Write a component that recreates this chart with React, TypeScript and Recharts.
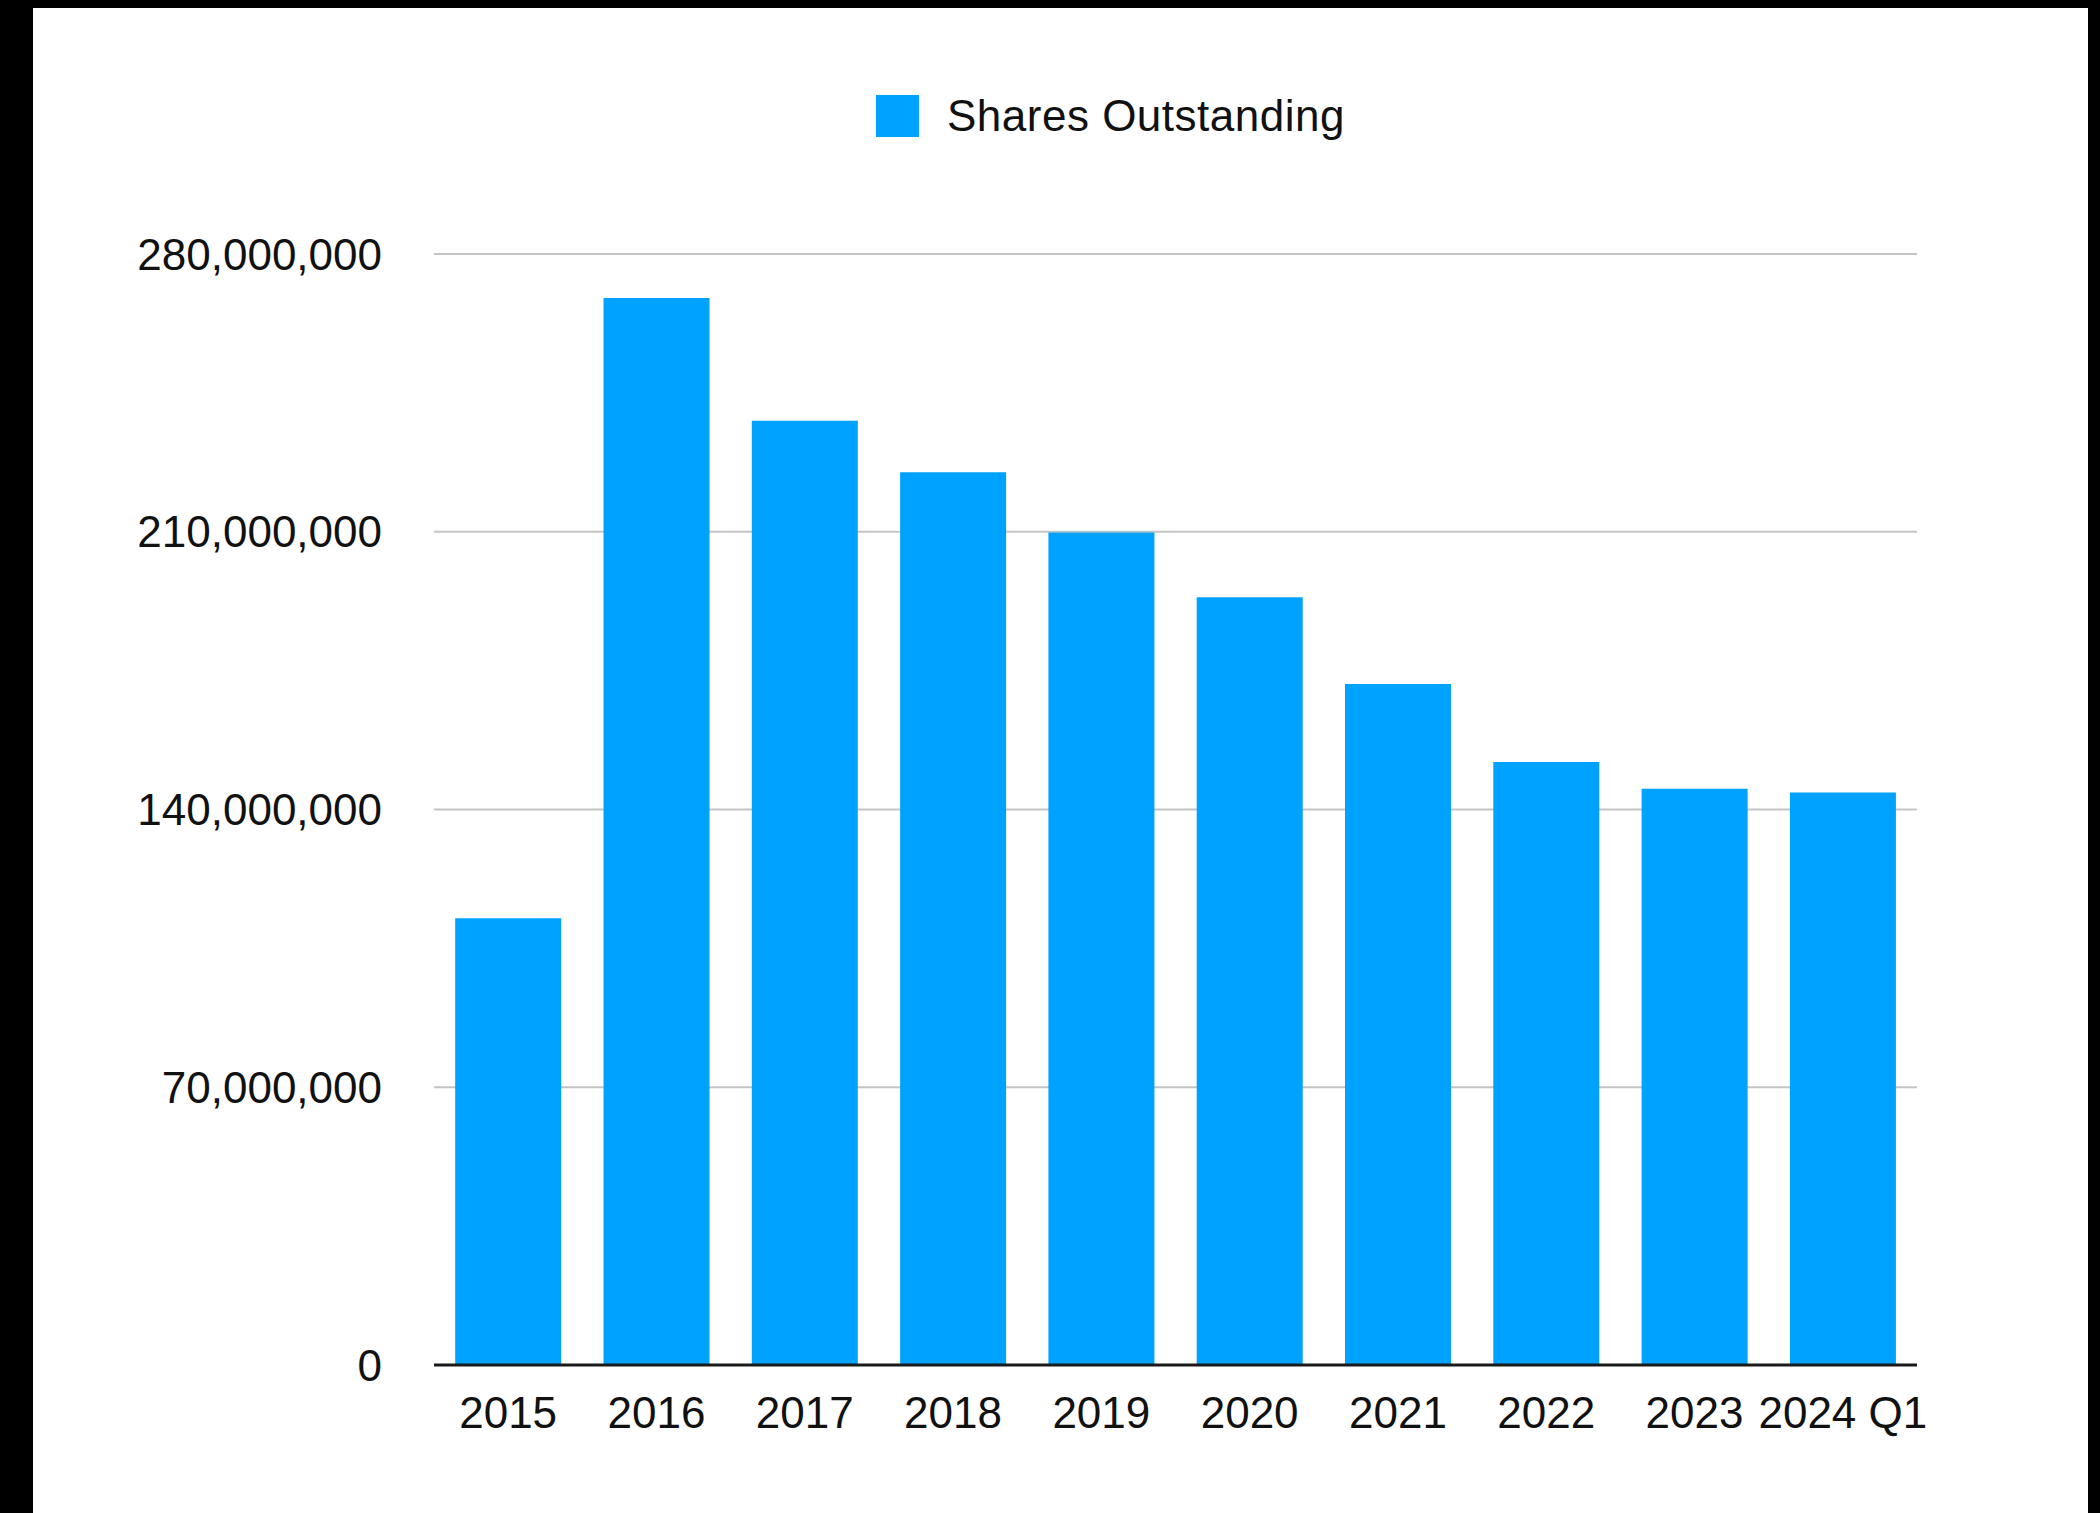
import { Bar, BarChart, CartesianGrid, Legend, XAxis, YAxis } from "recharts"

const categories = [
  "2015",
  "2016",
  "2017",
  "2018",
  "2019",
  "2020",
  "2021",
  "2022",
  "2023",
  "2024 Q1",
]

// 발행주식수 (그림에서 읽은 근사치)
const sharesOutstanding = [
  112_600_000, 268_900_000, 238_000_000, 225_000_000, 209_800_000,
  193_500_000, 171_600_000, 152_000_000, 145_200_000, 144_300_000,
]

const yTicks = [0, 70_000_000, 140_000_000, 210_000_000, 280_000_000]

const SERIES_NAME = "Shares Outstanding"
const BAR_COLOR = "#00A2FF"
const FONT = "'Liberation Sans', Arial, Helvetica, sans-serif"

const data = categories.map((year, i) => ({
  year,
  shares: sharesOutstanding[i],
}))

function LegendContent() {
  return (
    <div style={{ display: "flex", alignItems: "center" }}>
      <div style={{ width: 43, height: 42, background: BAR_COLOR }} />
      <span
        style={{
          marginLeft: 28,
          fontFamily: FONT,
          fontSize: 44,
          letterSpacing: 0.5,
          lineHeight: "42px",
          color: "#111",
          whiteSpace: "nowrap",
        }}
      >
        {SERIES_NAME}
      </span>
    </div>
  )
}

export default function App() {
  const tick = { fontSize: 44, fill: "#111", fontFamily: FONT }
  return (
    <div
      style={{
        position: "absolute",
        left: 0,
        top: 0,
        width: 2100,
        height: 1513,
        background: "#000",
        overflow: "hidden",
      }}
    >
      <div
        style={{
          position: "absolute",
          left: 33,
          top: 8,
          width: 2055,
          height: 1505,
          background: "#fff",
        }}
      />
      <div style={{ position: "absolute", left: 0, top: 0 }}>
        <BarChart
          width={2100}
          height={1513}
          data={data}
          margin={{ top: 254, right: 183, bottom: 68, left: 0 }}
          barCategoryGap="14.3%"
        >
          <CartesianGrid
            vertical={false}
            stroke="#c4c4c4"
            strokeWidth={2}
          />
          <XAxis
            dataKey="year"
            interval={0}
            height={80}
            tick={tick}
            tickLine={false}
            tickSize={0}
            tickMargin={32}
            axisLine={{ stroke: "#1a1a1a", strokeWidth: 3 }}
          />
          <YAxis
            domain={[0, 280_000_000]}
            ticks={yTicks}
            width={434}
            tick={tick}
            tickLine={false}
            tickSize={0}
            tickMargin={52}
            axisLine={false}
            tickFormatter={(v: number) => v.toLocaleString("en-US")}
          />
          <Legend
            verticalAlign="middle"
            align="center"
            layout="horizontal"
            wrapperStyle={{ top: 95, left: 876, width: "auto", height: "auto" }}
            content={() => <LegendContent />}
          />
          <Bar
            dataKey="shares"
            name={SERIES_NAME}
            fill={BAR_COLOR}
            isAnimationActive={false}
          />
        </BarChart>
      </div>
    </div>
  )
}
